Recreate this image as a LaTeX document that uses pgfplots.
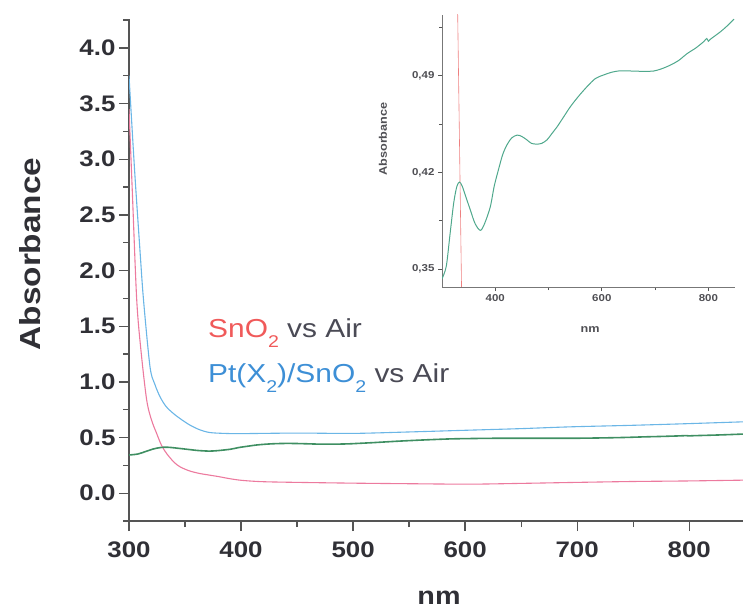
\documentclass[border=0pt]{standalone}
\usepackage{pgfplots}
\pgfplotsset{compat=1.18}
\usepackage{fontspec}
\setmainfont{Liberation Sans}[FakeStretch=1.15]
\definecolor{cpink}{HTML}{EC7A9E}
\definecolor{cblue}{HTML}{6BB6E6}
\definecolor{cgreen}{HTML}{3F8F62}
\definecolor{cteal}{HTML}{4FA88C}
\definecolor{cred}{HTML}{EE8080}
\definecolor{snored}{HTML}{F05A5A}
\definecolor{ptblue}{HTML}{3D8FD6}
\definecolor{vsgray}{HTML}{4A4A55}
\definecolor{axgray}{HTML}{555555}
\definecolor{lblgray}{HTML}{303036}
\newcommand{\sub}[1]{\raisebox{-0.42em}{\fontsize{17}{17}\selectfont #1}}

\pgfplotstableread{
x y
300 0.343
308 0.352
315 0.375
322 0.398
328 0.410
333 0.413
338 0.410
345 0.402
353 0.393
362 0.383
372 0.378
380 0.383
390.6 0.395
398 0.410
406 0.422
414 0.433
422 0.440
431 0.445
441 0.447
450 0.446
459.5 0.4435
468 0.441
478 0.4405
487 0.441
497 0.4435
506 0.448
516 0.453
528 0.460
541 0.4676
556 0.475
572 0.482
588 0.488
603 0.4905
618 0.4925
634 0.4936
650 0.4935
665 0.4933
681 0.4932
697 0.4934
712 0.495
728.6 0.4977
744 0.501
760 0.506
776 0.510
791 0.5146
797 0.517
800 0.515
804 0.5165
822.5 0.5218
835 0.526
848 0.531
}\greendata

\begin{document}
\begin{tikzpicture}[x=1pt,y=1pt]
\path[use as bounding box] (0,0) rectangle (743,611);
\begin{axis}[
  at={(129pt,90pt)}, anchor=south west,
  scale only axis, width=614pt, height=502pt,
  xmin=300, xmax=848, ymin=-0.25, ymax=4.26,
  axis x line*=bottom, axis y line*=left,
  axis line style={axgray, line width=1.4pt},
  tick align=outside,
  major tick length=10pt, minor tick length=6pt,
  every tick/.style={axgray, line width=1.3pt},
  xtick={300,400,500,600,700,800},
  minor xtick={350,450,550,650,750,850},
  ytick={0,0.5,1,1.5,2,2.5,3,3.5,4},
  minor ytick={-0.25,0.25,0.75,1.25,1.75,2.25,2.75,3.25,3.75,4.25},
  /pgf/number format/assume math mode=true,
  xticklabel style={font=\bfseries\fontsize{22.5}{22.5}\selectfont, text=lblgray, yshift=-7pt},
  yticklabel style={font=\bfseries\fontsize{22.5}{22.5}\selectfont, text=lblgray,
    /pgf/number format/fixed, /pgf/number format/fixed zerofill, /pgf/number format/precision=1},
  clip=true,
]
\addplot[cblue, line width=1.1pt, smooth, tension=0.5] coordinates {
(300,3.75)(305,2.9)(310,2.15)(313,1.73)(318.75,1.135)(323,0.98)(327.7,0.866)(333,0.78)
(339.6,0.716)(347,0.66)(354.5,0.611)(363,0.57)(372,0.545)(385,0.537)(400,0.535)
(450,0.54)(500,0.537)(550,0.55)(600,0.565)(650,0.58)(694,0.596)(750,0.61)(800,0.625)(848,0.641)};
\addplot[cpink, line width=1.1pt, smooth, tension=0.5] coordinates {
(300,3.45)(303,2.7)(306.9,1.735)(311,1.25)(315.8,0.836)(320,0.66)(324.7,0.536)(329,0.43)
(333.6,0.356)(340,0.28)(345.5,0.237)(354,0.2)(363,0.177)(372,0.162)(381,0.147)(390,0.13)
(399,0.117)(410,0.108)(423,0.102)(450,0.097)(500,0.09)(550,0.085)(604,0.081)(650,0.088)
(700,0.097)(750,0.105)(800,0.11)(848,0.117)};
\addplot[cgreen, line width=1.6pt, smooth] table[x=x,y=y] {\greendata};
\end{axis}

\begin{axis}[
  at={(442pt,324pt)}, anchor=south west,
  scale only axis, width=293pt, height=272pt,
  xmin=300, xmax=850, ymin=0.337, ymax=0.534,
  axis x line*=bottom, axis y line*=left,
  axis line style={axgray!80, line width=0.8pt},
  tick align=outside,
  major tick length=4pt, minor tick length=3pt,
  every tick/.style={axgray, line width=0.7pt},
  xtick={400,600,800}, minor xtick={500,700},
  ytick={0.35,0.42,0.49}, minor ytick={0.385,0.455,0.525},
  /pgf/number format/assume math mode=true,
  xticklabel style={font=\bfseries\fontsize{10}{10}\selectfont, text=lblgray!85},
  yticklabel style={font=\bfseries\fontsize{10}{10}\selectfont, text=lblgray!85,
    /pgf/number format/fixed, /pgf/number format/fixed zerofill, /pgf/number format/precision=2,
    /pgf/number format/use comma},
  clip=true,
]
\addplot[cred, line width=0.6pt] coordinates {(328.5,0.56)(338,0.30)};
\addplot[cteal, line width=1.0pt, smooth] table[x=x,y=y] {\greendata};
\end{axis}

% labels
\node[rotate=90, font=\bfseries\fontsize{29}{29}\selectfont, text=lblgray] at (30,357) {Absorbance};
\node[font=\bfseries\fontsize{25}{25}\selectfont, text=lblgray] at (439,13) {nm};
\node[rotate=90, font=\bfseries\fontsize{11}{11}\selectfont, text=lblgray!85] at (383,472) {Absorbance};
\node[font=\bfseries\fontsize{11}{11}\selectfont, text=lblgray!85] at (590,281) {nm};

\node[anchor=base west, font=\fontsize{26}{26}\selectfont, inner sep=0pt] at (208,274)
  {\textcolor{snored}{SnO\sub{2}} \textcolor{vsgray}{vs Air}};
\node[anchor=base west, font=\fontsize{26}{26}\selectfont, inner sep=0pt] at (208,229)
  {\textcolor{ptblue}{Pt(X\sub{2})/SnO\sub{2}} \textcolor{vsgray}{vs Air}};
\end{tikzpicture}
\end{document}
